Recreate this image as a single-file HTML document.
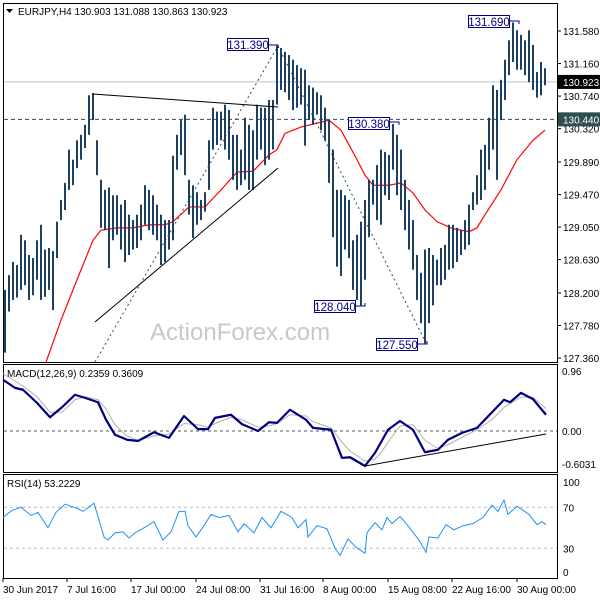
<!DOCTYPE html>
<html><head><meta charset="utf-8"><style>
html,body{margin:0;padding:0;background:#fff;}
svg{display:block;font-family:"Liberation Sans",sans-serif;}
</style></head><body>
<svg id="chart" width="600" height="600" viewBox="0 0 600 600" xmlns="http://www.w3.org/2000/svg"></svg>
<script>
// ---- price bars (each bar = index i) ----
const barHighs=[128.24,128.43,128.60,128.56,128.95,128.88,128.69,128.65,128.88,129.08,128.76,128.78,128.74,129.12,129.40,129.62,130.05,129.92,130.17,130.24,130.37,130.75,130.78,130.17,129.66,129.53,129.56,129.46,129.46,129.34,129.40,129.21,129.14,129.21,129.34,129.59,129.53,129.46,129.34,129.21,129.14,129.14,129.97,130.24,130.43,130.50,129.66,129.59,129.50,129.40,129.50,130.17,130.59,130.54,130.54,130.63,130.56,130.24,130.24,130.05,130.46,130.37,130.30,130.63,130.59,130.59,130.69,130.69,131.39,131.36,131.31,131.27,131.21,131.14,131.10,131.08,130.88,130.85,130.79,130.75,130.59,130.43,130.05,129.53,129.53,129.46,129.40,128.88,128.95,129.12,129.40,129.66,129.66,129.85,130.05,130.02,129.98,130.38,130.24,130.05,129.66,129.40,129.14,128.69,128.46,128.76,128.78,128.69,128.63,128.78,128.82,129.08,129.08,129.04,129.01,129.14,129.34,129.50,129.72,130.05,130.11,130.46,130.88,130.82,130.95,131.21,131.46,131.69,131.59,131.53,131.46,131.59,131.40,131.05,131.18,131.10];
const barLows=[127.43,127.96,128.11,128.14,128.24,128.30,128.11,128.17,128.37,128.11,128.15,128.24,127.98,128.65,129.14,129.27,129.53,129.59,129.81,129.92,130.07,130.24,130.43,129.72,129.04,129.01,128.52,128.88,128.95,128.76,128.60,128.69,128.76,128.78,128.88,129.08,129.01,128.95,128.88,128.56,128.60,128.76,128.88,129.79,129.98,129.72,129.21,128.91,129.08,129.14,129.25,129.53,130.05,130.11,130.17,130.05,129.92,129.66,129.53,129.59,129.66,129.53,129.53,129.92,130.05,129.85,129.92,130.05,130.63,130.82,130.79,130.69,130.56,130.59,130.63,130.10,130.43,130.37,130.50,130.30,130.17,129.62,128.92,128.54,128.42,128.76,128.65,128.24,128.11,128.04,128.37,128.92,129.34,129.14,129.08,129.46,129.40,129.79,129.46,129.27,129.01,128.76,128.50,128.11,127.81,127.55,127.81,128.04,128.30,128.30,128.37,128.50,128.52,128.60,128.69,128.76,128.82,129.27,129.34,129.40,129.53,129.79,130.05,129.66,130.43,130.69,131.01,131.18,131.08,131.08,131.01,130.92,130.82,130.72,130.75,130.88];
// moving average (red)
const maT=[10,14,18,22,24,28,32,36,40,42,46,50,54,58,62,66,68,70,74,78,81,84,86,88,90,92,96,99,102,105,108,112,116,118,120,124,128,132,135];
const maV=[127.27,127.85,128.37,128.88,129.01,129.04,129.04,129.08,129.08,129.12,129.31,129.31,129.53,129.76,129.77,129.98,130.05,130.26,130.34,130.39,130.43,130.30,130.11,129.92,129.72,129.59,129.59,129.62,129.49,129.27,129.12,129.03,128.99,129.04,129.21,129.53,129.92,130.17,130.30];
const priceTicks=[131.580,131.160,130.740,130.320,129.890,129.470,129.050,128.630,128.200,127.780,127.360];
// MACD
const macdT=[-0.5,2.5,4.5,8,11.25,14.25,17.5,20,23.25,25.25,27.5,30.5,33.25,37.25,41,44.75,48.25,50.75,52.5,56.5,59.25,63.25,66,68,71.25,75.25,77,81.5,84.25,86.25,90,92.5,94,95.75,98.75,102,105,108.25,110.75,114.25,118,121.75,124.75,126.25,129,132,135.25];
const macdV=[0.82,0.69,0.66,0.45,0.22,0.38,0.58,0.53,0.46,0.18,-0.06,-0.14,-0.16,-0.02,-0.11,0.24,0.03,0.03,0.21,0.26,0.11,0.0,0.14,0.13,0.34,0.18,0.05,0.02,-0.43,-0.42,-0.56,-0.35,-0.18,0.02,0.16,0.02,-0.34,-0.30,-0.14,-0.03,0.05,0.30,0.50,0.46,0.61,0.51,0.26];
const signalV=[0.92,0.80,0.72,0.55,0.30,0.30,0.50,0.55,0.50,0.35,0.10,-0.08,-0.15,-0.08,-0.05,0.12,0.10,0.06,0.12,0.22,0.18,0.06,0.08,0.12,0.26,0.24,0.15,0.05,-0.18,-0.32,-0.48,-0.45,-0.35,-0.18,0.08,0.10,-0.15,-0.28,-0.22,-0.10,0.02,0.18,0.38,0.44,0.54,0.54,0.36];
// RSI
const rsiT=[-0.5,1.75,4,6.5,8.25,10.75,12.75,15,18,19.5,22.25,24.75,25.75,27.5,29.5,31,32.5,35.25,37.25,39.5,41.5,43.5,45,45.75,47.75,49.75,51.5,53.5,56,58.25,59.75,62.25,64.25,66.5,69,71.75,73.25,75.25,75.75,78,80.5,82.5,83.75,85.75,87.75,90,90.5,92.5,94.25,95.5,96.75,98.75,100.75,103.5,105.25,106,108.25,110.25,112.25,114.5,117,119.5,121.75,123.25,124.75,125.75,128,131,133,134.25,135.25];
const rsiV=[60,67,70,62,65,50,65,73,69,66,74,41,38,45,46,40,45,51,56,38,46,66,66,52,41,52,63,60,62,46,54,45,60,50,66,60,50,58,41,52,49,30,23,39,31,25,45,55,48,60,54,61,52,38,26,41,40,53,48,52,54,60,72,66,77,63,71,63,53,56,53];
const dateLabels=["30 Jun 2017","7 Jul 16:00","17 Jul 00:00","24 Jul 08:00","31 Jul 16:00","8 Aug 00:00","15 Aug 08:00","22 Aug 16:00","30 Aug 00:00"];
const dateT=[-0.5,15.5,31.5,47.75,63.75,79.5,95.75,111.75,128];

const NS="http://www.w3.org/2000/svg";
const svg=document.getElementById('chart');
function mk(tag,attrs,parent){const e=document.createElementNS(NS,tag);for(const k in attrs)e.setAttribute(k,attrs[k]);(parent||svg).appendChild(e);return e;}
const xS=t=>5+4*t;
const yP=p=>31+(131.58-p)*77.5;
const yM=v=>431-v*62.5;
const yR=v=>579-v*1.025;
const FS=10;

let f1=mk('rect',{x:3.5,y:3.5,width:554,height:359,fill:'none',stroke:'#000','stroke-width':1});


let f2=mk('rect',{x:3.5,y:364.5,width:554,height:108,fill:'none',stroke:'#000','stroke-width':1});


let f3=mk('rect',{x:3.5,y:474.5,width:554,height:104,fill:'none',stroke:'#000','stroke-width':1});



let wm=mk('text',{x:150,y:340,fill:'#c8c8c8','font-size':24});
wm.textContent='ActionForex.com';



let hl=mk('line',{x1:4,x2:557,y1:yP(130.923),y2:yP(130.923),stroke:'#c0c0c0','stroke-width':1});


let hd=mk('line',{x1:4,x2:557,y1:yP(130.44),y2:yP(130.44),stroke:'#2f4f4f','stroke-width':1,'stroke-dasharray':'4,3'});



const cp=mk('clipPath',{id:'pc'});
mk('rect',{x:4,y:4,width:553,height:358},cp);
let ma=mk('polyline',{points:maT.map((t,k)=>xS(t)+','+yP(maV[k])).join(' '),fill:'none',stroke:'#ff0000','stroke-width':1.2,'clip-path':'url(#pc)'});



for(let i=0;i<barHighs.length;i++){
  const b=mk('line',{x1:xS(i),x2:xS(i),y1:yP(barHighs[i]),y2:yP(barLows[i]),stroke:'#1d4060','stroke-width':2});
  
  
}

function tl(x1,y1,x2,y2,name,st,dash){const l=mk('line',{x1,y1,x2,y2,stroke:st,'stroke-width':1});if(dash)l.setAttribute('stroke-dasharray',dash);return l;}
tl(93,94,278,107,'triangle-upper-line','#000');
tl(95,322,278,168,'triangle-lower-line','#000');
tl(95,362,278,46,'fib-line-up','#2f4f4f','2,3');
tl(278,46,426,343,'fib-line-down','#2f4f4f','2,3');

function lab(txt,bx,by,cx,cy,name){
  const g=mk('g',{});
  
  
  mk('rect',{x:bx+0.5,y:by+0.5,width:41,height:12,fill:'#fff',stroke:'#000080','stroke-width':1},g);
  const t=mk('text',{x:bx+21,y:by+11,'text-anchor':'middle','font-size':11.5,fill:'#000080'},g);t.textContent=txt;
  mk('polyline',{points:`${bx+42},${cy} ${cx},${cy} ${cx},${cy+(cy<200?3:-3)}`,fill:'none',stroke:'#000080','stroke-width':1},g);
}
lab('131.390',227,38,278,45,'label-131390');
lab('131.690',468,15,519,21,'label-131690');
lab('130.380',348,117,399,122,'label-130380');
lab('128.040',314,300,365,306,'label-128040');
lab('127.550',376,338,427,344,'label-127550');

priceTicks.forEach(p=>{
  const y=yP(p);
  mk('line',{x1:557,x2:561,y1:y,y2:y,stroke:'#000'});
  const t=mk('text',{x:563,y:y+4,'font-size':FS,fill:'#000'});t.textContent=p.toFixed(3);
  
  
});
let cb=mk('rect',{x:558,y:yP(130.923)-7,width:42,height:14,fill:'#000'});


let ct=mk('text',{x:563,y:yP(130.923)+4,'font-size':FS,fill:'#fff'});ct.textContent='130.923';
let rb=mk('rect',{x:558,y:yP(130.44)-7,width:42,height:14,fill:'#2f4f4f'});


let rt=mk('text',{x:563,y:yP(130.44)+4,'font-size':FS,fill:'#fff'});rt.textContent='130.440';

mk('polygon',{points:'6,9 13,9 9.5,13',fill:'#000'});
let ti=mk('text',{x:18,y:15,'font-size':FS,fill:'#000'});ti.textContent='EURJPY,H4  130.903 131.088 130.863 130.923';



let mz=mk('line',{x1:4,x2:557,y1:yM(0),y2:yM(0),stroke:'#555','stroke-dasharray':'3,3'});


let sg=mk('polyline',{points:macdT.map((t,k)=>xS(t)+','+yM(signalV[k])).join(' '),fill:'none',stroke:'#b0b0b0','stroke-width':1});


let ml=mk('polyline',{points:macdT.map((t,k)=>xS(t)+','+yM(macdV[k])).join(' '),fill:'none',stroke:'#000080','stroke-width':2.2,'stroke-linejoin':'round'});


tl(365,466,546,434,'macd-divergence-line','#000');
let mt=mk('text',{x:7,y:377,'font-size':FS,fill:'#000'});mt.textContent='MACD(12,26,9) 0.2359 0.3609';


[['0.96',yM(0.96)+4],['0.00',yM(0)+4],['-0.6031',468]].forEach(([s,y])=>{
  const t=mk('text',{x:562,y:y,'font-size':FS,fill:'#000'});t.textContent=s;
  
  
});

[70,30].forEach(v=>{const l=mk('line',{x1:4,x2:557,y1:yR(v),y2:yR(v),stroke:'#bbb','stroke-dasharray':'3,3'});
  
  });
let rl=mk('polyline',{points:rsiT.map((t,k)=>xS(t)+','+yR(rsiV[k])).join(' '),fill:'none',stroke:'#1e90ff','stroke-width':1});


let rtl=mk('text',{x:7,y:487,'font-size':FS,fill:'#000'});rtl.textContent='RSI(14) 53.2229';


[['100',486],['70',yR(70)+4],['30',yR(30)+4],['0',576]].forEach(([s,y])=>{
  const t=mk('text',{x:563,y:y,'font-size':FS,fill:'#000'});t.textContent=s;
  
  
});

dateLabels.forEach((s,k)=>{
  const x=xS(dateT[k]);
  mk('line',{x1:x,x2:x,y1:578,y2:582,stroke:'#000'});
  const t=mk('text',{x:Math.max(x,3),y:593,'font-size':FS,fill:'#000'});t.textContent=s;
  
  
});
</script>
</body></html>
